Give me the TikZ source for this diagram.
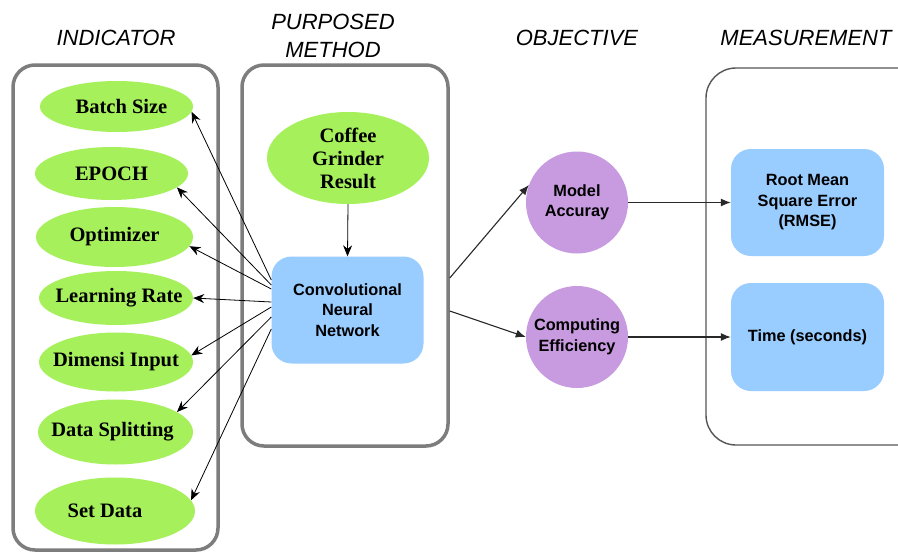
\documentclass[tikz,border=0pt]{standalone}
\usepackage{fontspec}
\setmainfont{Liberation Serif}
\setsansfont{Liberation Sans}
\usetikzlibrary{shapes.geometric,arrows.meta}
\definecolor{leaf}{RGB}{166,240,92}
\definecolor{sky}{RGB}{153,204,255}
\definecolor{lilac}{RGB}{200,155,224}
\definecolor{framegray}{RGB}{125,125,125}
\definecolor{thinframe}{RGB}{85,85,85}
\definecolor{linkgray}{RGB}{40,40,40}
\begin{document}
\begin{tikzpicture}[x=1pt,y=-1pt,
  groupbox/.style={draw=framegray,line width=3.5pt,rounded corners=22pt,inner sep=0pt},
  measbox/.style={draw=thinframe,line width=1.4pt,rounded corners=30pt,inner sep=0pt},
  header/.style={font=\sffamily\itshape\fontsize{22}{28}\selectfont,align=center,inner sep=0pt},
  indic/.style={ellipse,fill=leaf,inner sep=0pt},
  indictext/.style={inner sep=0pt,align=center,font=\bfseries\fontsize{20.5}{23}\selectfont},
  bluebox/.style={fill=sky,rounded corners=20pt,inner sep=0pt,align=center,
    font=\sffamily\bfseries\fontsize{16.3}{20.5}\selectfont},
  objcircle/.style={circle,fill=lilac,inner sep=0pt,minimum size=102pt,align=center,
    font=\sffamily\bfseries\fontsize{16.3}{20.5}\selectfont},
  toind/.style={draw=black,line width=0.8pt,-{Stealth[length=11pt,width=9pt]}},
  tomeas/.style={draw=linkgray,line width=1.1pt,-{Latex[length=10pt,width=8pt]}}
]
\clip (0,0) rectangle (898,554);
\fill[white] (0,0) rectangle (898,554);

% headers
\node[header] (h1) at (116,38) {INDICATOR};
\node[header] (h2) at (333,36) {PURPOSED\\METHOD};
\node[header] (h3) at (577,38) {OBJECTIVE};
\node[header] (h4) at (806,38) {MEASUREMENT};

% group boxes
\node[groupbox,minimum width=205pt,minimum height=485pt] (ind) at (115.5,307.5) {};
\node[groupbox,minimum width=206pt,minimum height=381pt] (pm) at (345,255.5) {};
\node[measbox,minimum width=224pt,minimum height=377pt] (meas) at (818,256.5) {};

% indicator ellipses
\node[indic,minimum width=153pt,minimum height=51pt,
  label={[indictext,xshift=5pt]center:Batch Size}] (bs) at (116.5,106.5) {};
\node[indic,minimum width=153pt,minimum height=53pt,
  label={[indictext]center:EPOCH}] (ep) at (111.5,173.5) {};
\node[indic,minimum width=157pt,minimum height=60pt,
  label={[indictext]center:Optimizer}] (op) at (114.5,237) {};
\node[indic,minimum width=154pt,minimum height=54pt,
  label={[indictext,xshift=3pt]center:Learning Rate}] (lr) at (116,298) {};
\node[indic,minimum width=154pt,minimum height=59pt,
  label={[indictext]center:Dimensi Input}] (di) at (116,362) {};
\node[indic,minimum width=155pt,minimum height=65pt,
  label={[indictext,xshift=-3pt]center:Data Splitting}] (ds) at (115.5,432) {};
\node[indic,minimum width=160pt,minimum height=67pt,
  label={[indictext,xshift=-10pt]center:Set Data}] (sd) at (115,511) {};

% method
\node[indic,minimum width=162pt,minimum height=92pt,
  label={[indictext]center:Coffee\\Grinder\\Result}] (cg) at (348,158) {};
\node[bluebox,minimum width=152pt,minimum height=107pt] (cnn) at (347.5,310) {Convolutional\\Neural\\Network};

% objectives
\node[objcircle] (ma) at (577,202.5) {Model\\Accuray};
\node[objcircle] (ce) at (577,337) {Computing\\Efficiency};

% measurements
\node[bluebox,minimum width=153pt,minimum height=107pt] (rm) at (807.5,202.5) {Root Mean\\Square Error\\(RMSE)};
\node[bluebox,minimum width=153pt,minimum height=108pt] (tm) at (807.5,337) {Time (seconds)};

% connectors
\draw[toind] (cg.south) -- (cnn.north);
\draw[toind] ([yshift=30pt]cnn.west) -- (bs.-4);
\draw[toind] ([yshift=25pt]cnn.west) -- (ep.-12);
\draw[toind] ([yshift=21pt]cnn.west) -- (op.-7);
\draw[toind] ([yshift=8pt]cnn.west) -- (lr.east);
\draw[toind] ([yshift=3pt]cnn.west) -- (di.5);
\draw[toind] ([yshift=-7pt]cnn.west) -- (ds.18);
\draw[toind] ([yshift=-19pt]cnn.west) -- (sd.8);

\draw[tomeas] ([yshift=-22.5pt]pm.east) -- (ma.160);
\draw[tomeas] ([yshift=-55.5pt]pm.east) -- (ce.west);
\draw[tomeas] (ma.east) -- (rm.west);
\draw[tomeas] (ce.east) -- (tm.west);
\end{tikzpicture}
\end{document}
